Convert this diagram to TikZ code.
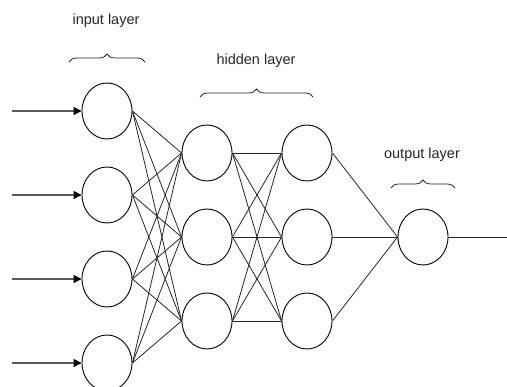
\documentclass[tikz,border=0pt]{standalone}
\usepackage{fontspec}
\setmainfont{Liberation Sans}
\usetikzlibrary{shapes.geometric,arrows.meta,decorations.pathreplacing}
\begin{document}
\begin{tikzpicture}[x=1pt,y=-1pt,
  neuron/.style={ellipse,draw=black,line width=0.9pt,minimum width=50pt,minimum height=56pt,inner sep=0pt},
  conn/.style={draw=black!85,line width=0.8pt},
  inarrow/.style={draw=black!65,line width=1.4pt,-{Triangle[length=8pt,width=8pt,fill=black,color=black]}},
  lbl/.style={font=\fontsize{14.5pt}{17pt}\selectfont,text=black!85},
  bracestyle/.style={draw=black!85,line width=0.8pt,decorate,decoration={brace,amplitude=8pt,aspect=0.5}}]
\useasboundingbox (0,0) rectangle (507,387);
% input layer
\node[neuron] (i1) at (107,111) {};
\node[neuron] (i2) at (107,195) {};
\node[neuron] (i3) at (107,279) {};
\node[neuron] (i4) at (107,363) {};
% hidden layer 1
\node[neuron] (a1) at (207,153) {};
\node[neuron] (a2) at (207,237) {};
\node[neuron] (a3) at (207,321) {};
% hidden layer 2
\node[neuron] (b1) at (307,153) {};
\node[neuron] (b2) at (307,237) {};
\node[neuron] (b3) at (307,321) {};
% output
\node[neuron] (o) at (423,237) {};
% input arrows
\coordinate (s1) at (12,111);
\coordinate (s2) at (12,195);
\coordinate (s3) at (12,279);
\coordinate (s4) at (12,363);
\foreach \k in {1,2,3,4} \draw[inarrow] (s\k) -- (i\k.west);
% connections
\foreach \p in {1,2,3,4}
  \foreach \q in {1,2,3}
    \draw[conn] (i\p.east) -- (a\q.west);
\foreach \p in {1,2,3}
  \foreach \q in {1,2,3}
    \draw[conn] (a\p.east) -- (b\q.west);
\foreach \p in {1,2,3}
  \draw[conn] (b\p.east) -- (o.west);
\coordinate (e) at (507,237);
\draw[conn] (o.east) -- (e);
% labels and braces
\node[lbl] (tin) at (106,21) {input layer};
\coordinate (bi1) at (69,62);
\coordinate (bi2) at (145,62);
\draw[bracestyle] (bi1) -- (bi2);
\node[lbl] (thid) at (256,61) {hidden layer};
\coordinate (bh1) at (200,97);
\coordinate (bh2) at (313,97);
\draw[bracestyle] (bh1) -- (bh2);
\node[lbl] (tout) at (422,155) {output layer};
\coordinate (bo1) at (391,188);
\coordinate (bo2) at (455,188);
\draw[bracestyle] (bo1) -- (bo2);
\end{tikzpicture}
\end{document}
